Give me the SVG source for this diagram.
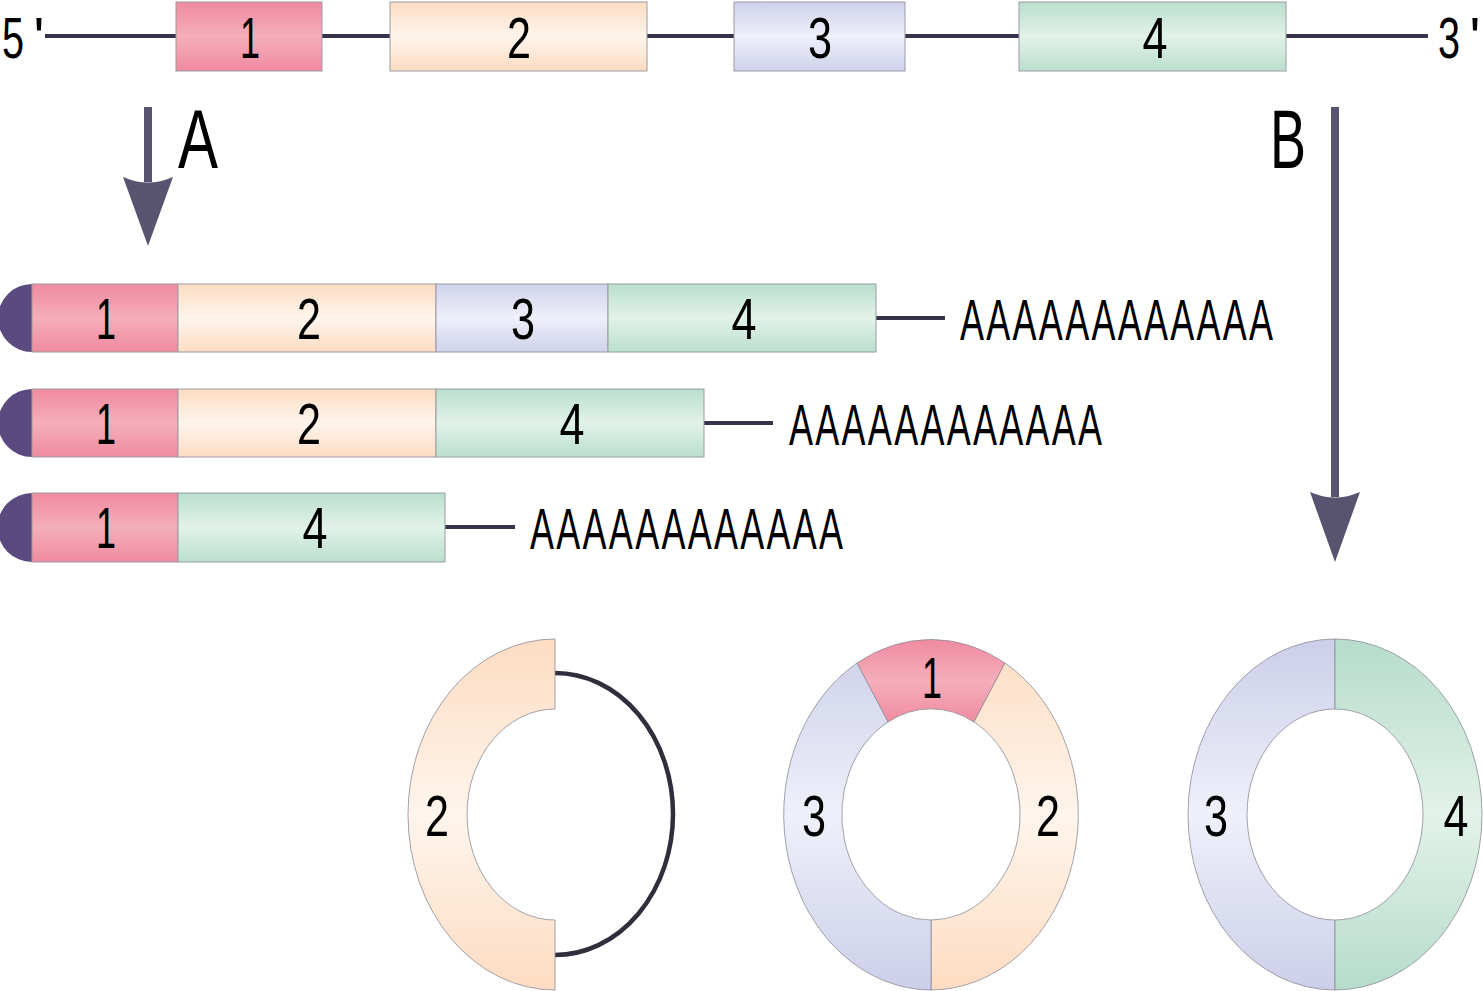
<svg xmlns="http://www.w3.org/2000/svg" width="1483" height="991" viewBox="0 0 1483 991">
<style>
.t{font-family:"Liberation Sans",Arial,sans-serif;fill:#000;text-anchor:middle}
.d{font-size:57px}
.p{font-size:58px;text-anchor:start}
.L{font-size:83px}
.bx{stroke:#9a9aa4;stroke-width:1}
.ln{stroke:#35344a;stroke-width:4;fill:none}
.ar{fill:#585470}
.seg{stroke:#8c8c96;stroke-width:0.8}
</style>
<defs>
<linearGradient id="gPink" x1="0" y1="0" x2="0" y2="1"><stop offset="0" stop-color="#f08aa0"/><stop offset="0.5" stop-color="#f5aebb"/><stop offset="1" stop-color="#f08aa0"/></linearGradient>
<linearGradient id="gPeach" x1="0" y1="0" x2="0" y2="1"><stop offset="0" stop-color="#fddcc2"/><stop offset="0.5" stop-color="#fff5ec"/><stop offset="1" stop-color="#fddcc2"/></linearGradient>
<linearGradient id="gLav" x1="0" y1="0" x2="0" y2="1"><stop offset="0" stop-color="#cfd1eb"/><stop offset="0.5" stop-color="#eef0fa"/><stop offset="1" stop-color="#cfd1eb"/></linearGradient>
<linearGradient id="gGreen" x1="0" y1="0" x2="0" y2="1"><stop offset="0" stop-color="#badfcd"/><stop offset="0.5" stop-color="#e2f2e9"/><stop offset="1" stop-color="#badfcd"/></linearGradient>
<linearGradient id="cPink" gradientUnits="userSpaceOnUse" x1="0" y1="639" x2="0" y2="990"><stop offset="0" stop-color="#f08aa0"/><stop offset="0.12" stop-color="#f5aebb"/><stop offset="0.24" stop-color="#f08aa0"/></linearGradient>
<linearGradient id="cPeach" gradientUnits="userSpaceOnUse" x1="0" y1="639" x2="0" y2="990"><stop offset="0" stop-color="#fddcc2"/><stop offset="0.5" stop-color="#fff5ec"/><stop offset="1" stop-color="#fddcc2"/></linearGradient>
<linearGradient id="cLav" gradientUnits="userSpaceOnUse" x1="0" y1="639" x2="0" y2="990"><stop offset="0" stop-color="#cdcfea"/><stop offset="0.5" stop-color="#eef0fa"/><stop offset="1" stop-color="#cdcfea"/></linearGradient>
<linearGradient id="cGreen" gradientUnits="userSpaceOnUse" x1="0" y1="639" x2="0" y2="990"><stop offset="0" stop-color="#b6dccb"/><stop offset="0.5" stop-color="#e2f2e9"/><stop offset="1" stop-color="#b6dccb"/></linearGradient>
</defs>

<g id="connectors">
<line class="ln" x1="45" y1="36" x2="1428" y2="36"/>
<line class="ln" x1="876" y1="318" x2="945" y2="318"/>
<line class="ln" x1="704" y1="423" x2="773" y2="423"/>
<line class="ln" x1="445" y1="527" x2="515" y2="527"/>
<rect class="ar" x="144" y="107" width="8" height="75"/>
<path class="ar" d="M123,177 Q148,188 173,177 L148,246 Z"/>
<rect class="ar" x="1331" y="107" width="8" height="390"/>
<path class="ar" d="M1310,492 Q1335,503 1360,492 L1335,562 Z"/>
<path d="M555,673 A118,141 0 0 1 555,955" fill="none" stroke="#2e2e3c" stroke-width="4.5"/>
</g>

<g id="gene">
<text class="t d" x="13" y="58" textLength="22" lengthAdjust="spacingAndGlyphs">5</text>
<text class="t d" x="39" y="58" font-size="40">'</text>
<text class="t d" x="1449" y="58" textLength="22" lengthAdjust="spacingAndGlyphs">3</text>
<text class="t d" x="1475" y="58">'</text>
<rect class="bx" x="176" y="2" width="146" height="69" fill="url(#gPink)" stroke="#c07a8a"/>
<text class="t d" x="250" y="58" textLength="20" lengthAdjust="spacingAndGlyphs">1</text>
<rect class="bx" x="390" y="2" width="257" height="69" fill="url(#gPeach)"/>
<text class="t d" x="519" y="58" textLength="24" lengthAdjust="spacingAndGlyphs">2</text>
<rect class="bx" x="734" y="2" width="171" height="69" fill="url(#gLav)"/>
<text class="t d" x="820" y="58" textLength="24" lengthAdjust="spacingAndGlyphs">3</text>
<rect class="bx" x="1019" y="2" width="267" height="69" fill="url(#gGreen)"/>
<text class="t d" x="1155" y="58" textLength="25" lengthAdjust="spacingAndGlyphs">4</text>
</g>

<g id="labelA"><text class="t L" x="198" y="168" textLength="40" lengthAdjust="spacingAndGlyphs">A</text></g>
<g id="labelB"><text class="t L" x="1288" y="168" textLength="36" lengthAdjust="spacingAndGlyphs">B</text></g>

<g id="mrna1">
<path d="M32,284 A34,34 0 0 0 32,352 Z" fill="#5a4a80"/>
<rect class="bx" x="32" y="284" width="146" height="68" fill="url(#gPink)"/>
<text class="t d" x="106" y="339" textLength="20" lengthAdjust="spacingAndGlyphs">1</text>
<rect class="bx" x="178" y="284" width="258" height="68" fill="url(#gPeach)"/>
<text class="t d" x="309" y="339" textLength="24" lengthAdjust="spacingAndGlyphs">2</text>
<rect class="bx" x="436" y="284" width="172" height="68" fill="url(#gLav)"/>
<text class="t d" x="523" y="339" textLength="24" lengthAdjust="spacingAndGlyphs">3</text>
<rect class="bx" x="608" y="284" width="268" height="68" fill="url(#gGreen)"/>
<text class="t d" x="744" y="339" textLength="25" lengthAdjust="spacingAndGlyphs">4</text>
<text class="t p" transform="translate(960,340) scale(0.62,1)" x="0" y="0" textLength="505" lengthAdjust="spacing">AAAAAAAAAAAA</text>
</g>

<g id="mrna2">
<path d="M32,389 A34,34 0 0 0 32,457 Z" fill="#5a4a80"/>
<rect class="bx" x="32" y="389" width="146" height="68" fill="url(#gPink)"/>
<text class="t d" x="106" y="444" textLength="20" lengthAdjust="spacingAndGlyphs">1</text>
<rect class="bx" x="178" y="389" width="258" height="68" fill="url(#gPeach)"/>
<text class="t d" x="309" y="444" textLength="24" lengthAdjust="spacingAndGlyphs">2</text>
<rect class="bx" x="436" y="389" width="268" height="68" fill="url(#gGreen)"/>
<text class="t d" x="572" y="444" textLength="25" lengthAdjust="spacingAndGlyphs">4</text>
<text class="t p" transform="translate(789,445) scale(0.62,1)" x="0" y="0" textLength="505" lengthAdjust="spacing">AAAAAAAAAAAA</text>
</g>

<g id="mrna3">
<path d="M32,493 A34,34 0 0 0 32,562 Z" fill="#5a4a80"/>
<rect class="bx" x="32" y="493" width="146" height="69" fill="url(#gPink)"/>
<text class="t d" x="106" y="548" textLength="20" lengthAdjust="spacingAndGlyphs">1</text>
<rect class="bx" x="178" y="493" width="267" height="69" fill="url(#gGreen)"/>
<text class="t d" x="315" y="548" textLength="25" lengthAdjust="spacingAndGlyphs">4</text>
<text class="t p" transform="translate(530,549) scale(0.62,1)" x="0" y="0" textLength="505" lengthAdjust="spacing">AAAAAAAAAAAA</text>
</g>

<g id="circle1">
<path class="seg" d="M555,639 A147,175.5 0 0 0 555,990 L555,920 A88,105.5 0 0 1 555,709 Z" fill="url(#cPeach)"/>
<text class="t d" x="437" y="836" textLength="24" lengthAdjust="spacingAndGlyphs">2</text>
</g>

<g id="circle2">
<path class="seg" d="M857,663 A148,175.5 0 0 1 1005,663 L974,722 A89,105.5 0 0 0 888,722 Z" fill="url(#cPink)"/>
<path class="seg" d="M1005,663 A148,175.5 0 0 1 931,990 L931,920 A89,105.5 0 0 0 974,722 Z" fill="url(#cPeach)"/>
<path class="seg" d="M931,990 A148,175.5 0 0 1 857,663 L888,722 A89,105.5 0 0 0 931,920 Z" fill="url(#cLav)"/>
<text class="t d" x="932" y="698" textLength="20" lengthAdjust="spacingAndGlyphs">1</text>
<text class="t d" x="814" y="836" textLength="24" lengthAdjust="spacingAndGlyphs">3</text>
<text class="t d" x="1048" y="836" textLength="24" lengthAdjust="spacingAndGlyphs">2</text>
</g>

<g id="circle3">
<path class="seg" d="M1335,639 A147,175.5 0 0 0 1335,990 L1335,920 A88,105.5 0 0 1 1335,709 Z" fill="url(#cLav)"/>
<path class="seg" d="M1335,639 A147,175.5 0 0 1 1335,990 L1335,920 A88,105.5 0 0 0 1335,709 Z" fill="url(#cGreen)"/>
<text class="t d" x="1216" y="836" textLength="24" lengthAdjust="spacingAndGlyphs">3</text>
<text class="t d" x="1456" y="836" textLength="25" lengthAdjust="spacingAndGlyphs">4</text>
</g>
</svg>
